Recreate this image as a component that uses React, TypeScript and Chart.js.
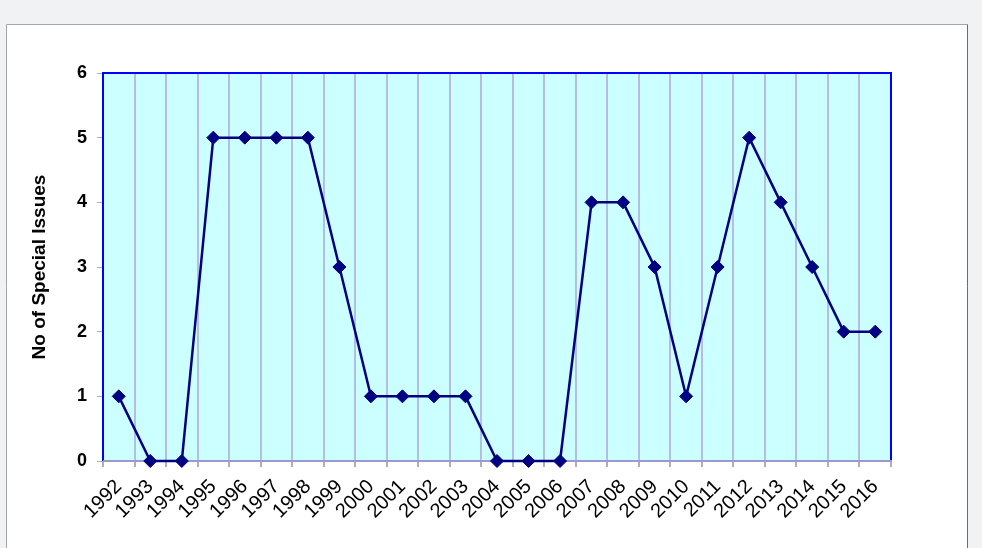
import React, { useEffect, useRef } from "react";
import { Chart, registerables } from "chart.js";

Chart.register(...registerables);

const years = ["1992","1993","1994","1995","1996","1997","1998","1999","2000","2001","2002","2003","2004","2005","2006","2007","2008","2009","2010","2011","2012","2013","2014","2015","2016"];
const specialIssues = [1,0,0,5,5,5,5,3,1,1,1,1,0,0,0,4,4,3,1,3,5,4,3,2,2];
const yTitle = "No of Special Issues";

const framePlugin = {
  id: "frame",
  beforeDraw(chart: any) {
    const { ctx, width, height, chartArea } = chart;
    ctx.save();
    ctx.fillStyle = "#f1f2f4";
    ctx.fillRect(0, 0, width, height);
    ctx.fillStyle = "#ffffff";
    ctx.fillRect(6, 24, 962, height - 24);
    ctx.strokeStyle = "#a6a6a6";
    ctx.lineWidth = 1;
    ctx.beginPath();
    ctx.moveTo(6.5, height);
    ctx.lineTo(6.5, 24.5);
    ctx.lineTo(967.5, 24.5);
    ctx.stroke();
    ctx.strokeStyle = "#6b6b6b";
    ctx.beginPath();
    ctx.moveTo(967.5, 24.5);
    ctx.lineTo(967.5, height);
    ctx.stroke();
    ctx.fillStyle = "#ccffff";
    ctx.fillRect(chartArea.left, chartArea.top, chartArea.right - chartArea.left, chartArea.bottom - chartArea.top);
    ctx.restore();
  },
  beforeDatasetsDraw(chart: any) {
    const { ctx, chartArea } = chart;
    ctx.save();
    ctx.lineWidth = 2;
    ctx.strokeStyle = "#0000ff";
    ctx.beginPath();
    ctx.moveTo(chartArea.left, chartArea.bottom);
    ctx.lineTo(chartArea.left, chartArea.top);
    ctx.lineTo(chartArea.right, chartArea.top);
    ctx.lineTo(chartArea.right, chartArea.bottom);
    ctx.stroke();
    ctx.strokeStyle = "#9a9ad0";
    ctx.beginPath();
    ctx.moveTo(chartArea.left, chartArea.bottom);
    ctx.lineTo(chartArea.right + 1, chartArea.bottom);
    ctx.stroke();
    ctx.restore();
  },
};

export default function App() {
  const ref = useRef<HTMLCanvasElement>(null);
  useEffect(() => {
    if (!ref.current) return;
    const chart = new Chart(ref.current, {
      type: "line",
      data: {
        labels: years,
        datasets: [
          {
            data: specialIssues,
            borderColor: "#000080",
            backgroundColor: "#000080",
            borderWidth: 2.5,
            pointStyle: "rectRot",
            pointRadius: 6.5,
            pointBorderWidth: 1,
            pointBackgroundColor: "#000080",
            pointBorderColor: "#000080",
            tension: 0,
            clip: false as any,
          },
        ],
      },
      options: {
        animation: false,
        responsive: false,
        devicePixelRatio: 1,
        layout: { padding: { left: 0, top: 73, right: 91, bottom: 0 } },
        plugins: { legend: { display: false }, tooltip: { enabled: false } },
        scales: {
          x: {
            offset: true,
            grid: {
              offset: true,
              color: "#b4bde6",
              lineWidth: 2,
              tickColor: "#b0b0b0",
              tickLength: 6,
              drawOnChartArea: true,
            },
            border: { display: false },
            ticks: {
              maxRotation: 45,
              minRotation: 45,
              autoSkip: false,
              color: "#000000",
              padding: 8,
              font: { family: "Liberation Sans, Arial, sans-serif", size: 20 },
            },
            afterFit(scale: any) {
              scale.height = 87;
            },
          },
          y: {
            min: 0,
            max: 6,
            ticks: {
              stepSize: 1,
              color: "#000000",
              padding: 10,
              font: { family: "Liberation Sans, Arial, sans-serif", size: 18, weight: "bold" },
            },
            grid: {
              drawOnChartArea: false,
              tickColor: "#b0b0b0",
              tickLength: 6,
            },
            border: { display: false },
            title: {
              display: true,
              text: yTitle,
              color: "#000000",
              padding: { top: 28, bottom: 0 },
              font: { family: "Liberation Sans, Arial, sans-serif", size: 19, weight: "bold" },
            },
            afterFit(scale: any) {
              scale.width = 103;
            },
          },
        },
      },
      plugins: [framePlugin],
    });
    return () => chart.destroy();
  }, []);
  return (
    <canvas
      ref={ref}
      width={982}
      height={548}
      style={{ position: "absolute", left: 0, top: 0, width: 982, height: 548 }}
    />
  );
}
